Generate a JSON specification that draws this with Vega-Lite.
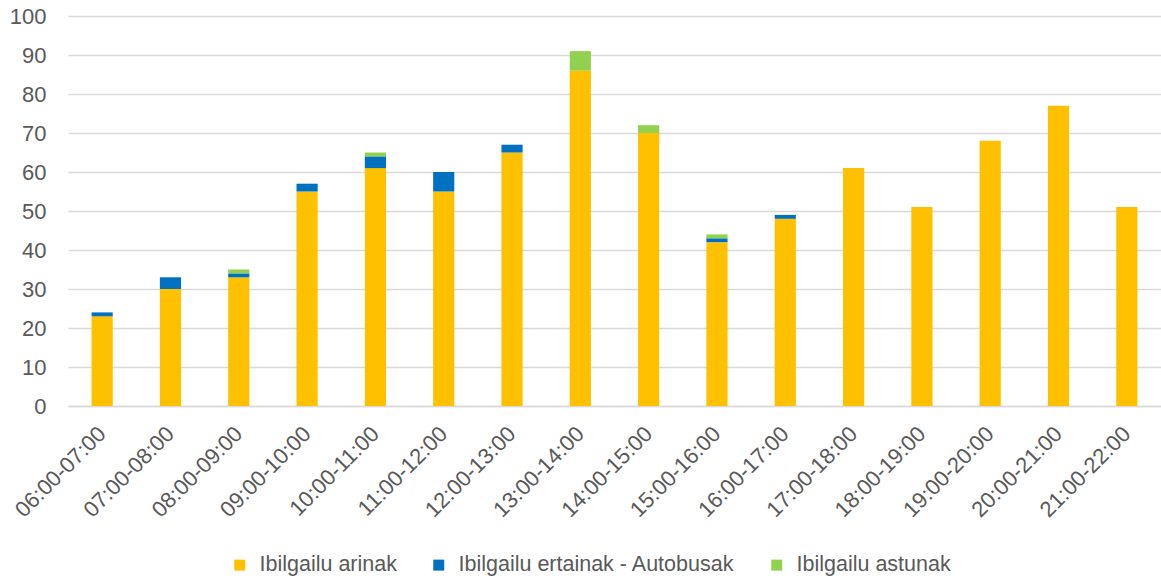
{
  "$schema": "https://vega.github.io/schema/vega-lite/v6.json",
  "width": 1093,
  "height": 390,
  "autosize": {"type": "none"},
  "padding": {"left": 68, "top": 16, "right": 0, "bottom": 177},
  "background": "white",
  "config": {
    "view": {"stroke": null},
    "font": "Liberation Sans",
    "axis": {"labelColor": "#595959", "labelFont": "Liberation Sans"}
  },
  "data": {
    "values": [
      {"t": "06:00-07:00", "s": "Ibilgailu arinak", "o": 1, "v": 23},
      {"t": "06:00-07:00", "s": "Ibilgailu ertainak - Autobusak", "o": 2, "v": 1},
      {"t": "06:00-07:00", "s": "Ibilgailu astunak", "o": 3, "v": 0},
      {"t": "07:00-08:00", "s": "Ibilgailu arinak", "o": 1, "v": 30},
      {"t": "07:00-08:00", "s": "Ibilgailu ertainak - Autobusak", "o": 2, "v": 3},
      {"t": "07:00-08:00", "s": "Ibilgailu astunak", "o": 3, "v": 0},
      {"t": "08:00-09:00", "s": "Ibilgailu arinak", "o": 1, "v": 33},
      {"t": "08:00-09:00", "s": "Ibilgailu ertainak - Autobusak", "o": 2, "v": 1},
      {"t": "08:00-09:00", "s": "Ibilgailu astunak", "o": 3, "v": 1},
      {"t": "09:00-10:00", "s": "Ibilgailu arinak", "o": 1, "v": 55},
      {"t": "09:00-10:00", "s": "Ibilgailu ertainak - Autobusak", "o": 2, "v": 2},
      {"t": "09:00-10:00", "s": "Ibilgailu astunak", "o": 3, "v": 0},
      {"t": "10:00-11:00", "s": "Ibilgailu arinak", "o": 1, "v": 61},
      {"t": "10:00-11:00", "s": "Ibilgailu ertainak - Autobusak", "o": 2, "v": 3},
      {"t": "10:00-11:00", "s": "Ibilgailu astunak", "o": 3, "v": 1},
      {"t": "11:00-12:00", "s": "Ibilgailu arinak", "o": 1, "v": 55},
      {"t": "11:00-12:00", "s": "Ibilgailu ertainak - Autobusak", "o": 2, "v": 5},
      {"t": "11:00-12:00", "s": "Ibilgailu astunak", "o": 3, "v": 0},
      {"t": "12:00-13:00", "s": "Ibilgailu arinak", "o": 1, "v": 65},
      {"t": "12:00-13:00", "s": "Ibilgailu ertainak - Autobusak", "o": 2, "v": 2},
      {"t": "12:00-13:00", "s": "Ibilgailu astunak", "o": 3, "v": 0},
      {"t": "13:00-14:00", "s": "Ibilgailu arinak", "o": 1, "v": 86},
      {"t": "13:00-14:00", "s": "Ibilgailu ertainak - Autobusak", "o": 2, "v": 0},
      {"t": "13:00-14:00", "s": "Ibilgailu astunak", "o": 3, "v": 5},
      {"t": "14:00-15:00", "s": "Ibilgailu arinak", "o": 1, "v": 70},
      {"t": "14:00-15:00", "s": "Ibilgailu ertainak - Autobusak", "o": 2, "v": 0},
      {"t": "14:00-15:00", "s": "Ibilgailu astunak", "o": 3, "v": 2},
      {"t": "15:00-16:00", "s": "Ibilgailu arinak", "o": 1, "v": 42},
      {"t": "15:00-16:00", "s": "Ibilgailu ertainak - Autobusak", "o": 2, "v": 1},
      {"t": "15:00-16:00", "s": "Ibilgailu astunak", "o": 3, "v": 1},
      {"t": "16:00-17:00", "s": "Ibilgailu arinak", "o": 1, "v": 48},
      {"t": "16:00-17:00", "s": "Ibilgailu ertainak - Autobusak", "o": 2, "v": 1},
      {"t": "16:00-17:00", "s": "Ibilgailu astunak", "o": 3, "v": 0},
      {"t": "17:00-18:00", "s": "Ibilgailu arinak", "o": 1, "v": 61},
      {"t": "17:00-18:00", "s": "Ibilgailu ertainak - Autobusak", "o": 2, "v": 0},
      {"t": "17:00-18:00", "s": "Ibilgailu astunak", "o": 3, "v": 0},
      {"t": "18:00-19:00", "s": "Ibilgailu arinak", "o": 1, "v": 51},
      {"t": "18:00-19:00", "s": "Ibilgailu ertainak - Autobusak", "o": 2, "v": 0},
      {"t": "18:00-19:00", "s": "Ibilgailu astunak", "o": 3, "v": 0},
      {"t": "19:00-20:00", "s": "Ibilgailu arinak", "o": 1, "v": 68},
      {"t": "19:00-20:00", "s": "Ibilgailu ertainak - Autobusak", "o": 2, "v": 0},
      {"t": "19:00-20:00", "s": "Ibilgailu astunak", "o": 3, "v": 0},
      {"t": "20:00-21:00", "s": "Ibilgailu arinak", "o": 1, "v": 77},
      {"t": "20:00-21:00", "s": "Ibilgailu ertainak - Autobusak", "o": 2, "v": 0},
      {"t": "20:00-21:00", "s": "Ibilgailu astunak", "o": 3, "v": 0},
      {"t": "21:00-22:00", "s": "Ibilgailu arinak", "o": 1, "v": 51},
      {"t": "21:00-22:00", "s": "Ibilgailu ertainak - Autobusak", "o": 2, "v": 0},
      {"t": "21:00-22:00", "s": "Ibilgailu astunak", "o": 3, "v": 0}
    ]
  },
  "mark": {"type": "bar"},
  "encoding": {
    "x": {
      "field": "t", "type": "nominal", "sort": null,
      "scale": {"paddingInner": 0.69, "paddingOuter": 0.345},
      "axis": {"title": null, "labelAngle": -45, "labelBaseline": "middle", "ticks": false, "domainColor": "#D9D9D9", "domainWidth": 1.5, "labelPadding": 24, "labelFontSize": 22, "grid": false}
    },
    "y": {
      "field": "v", "type": "quantitative", "stack": "zero",
      "scale": {"domain": [0, 100], "nice": false},
      "axis": {"title": null, "values": [0,10,20,30,40,50,60,70,80,90,100], "ticks": false, "domain": false, "gridColor": "#D9D9D9", "gridWidth": 1.5, "labelPadding": 22, "labelFontSize": 22}
    },
    "color": {
      "field": "s", "type": "nominal",
      "scale": {
        "domain": ["Ibilgailu arinak", "Ibilgailu ertainak - Autobusak", "Ibilgailu astunak"],
        "range": ["#FFC000", "#0070C0", "#92D050"]
      },
      "legend": {
        "title": null, "orient": "none", "direction": "horizontal",
        "legendX": 161, "legendY": 538,
        "symbolType": "square", "symbolSize": 121, "symbolStrokeWidth": 0,
        "labelFontSize": 21.5, "labelColor": "#595959", "labelFont": "Liberation Sans",
        "labelLimit": 0, "columnPadding": 31, "labelOffset": 9
      }
    },
    "order": {"field": "o", "type": "quantitative"}
  }
}
